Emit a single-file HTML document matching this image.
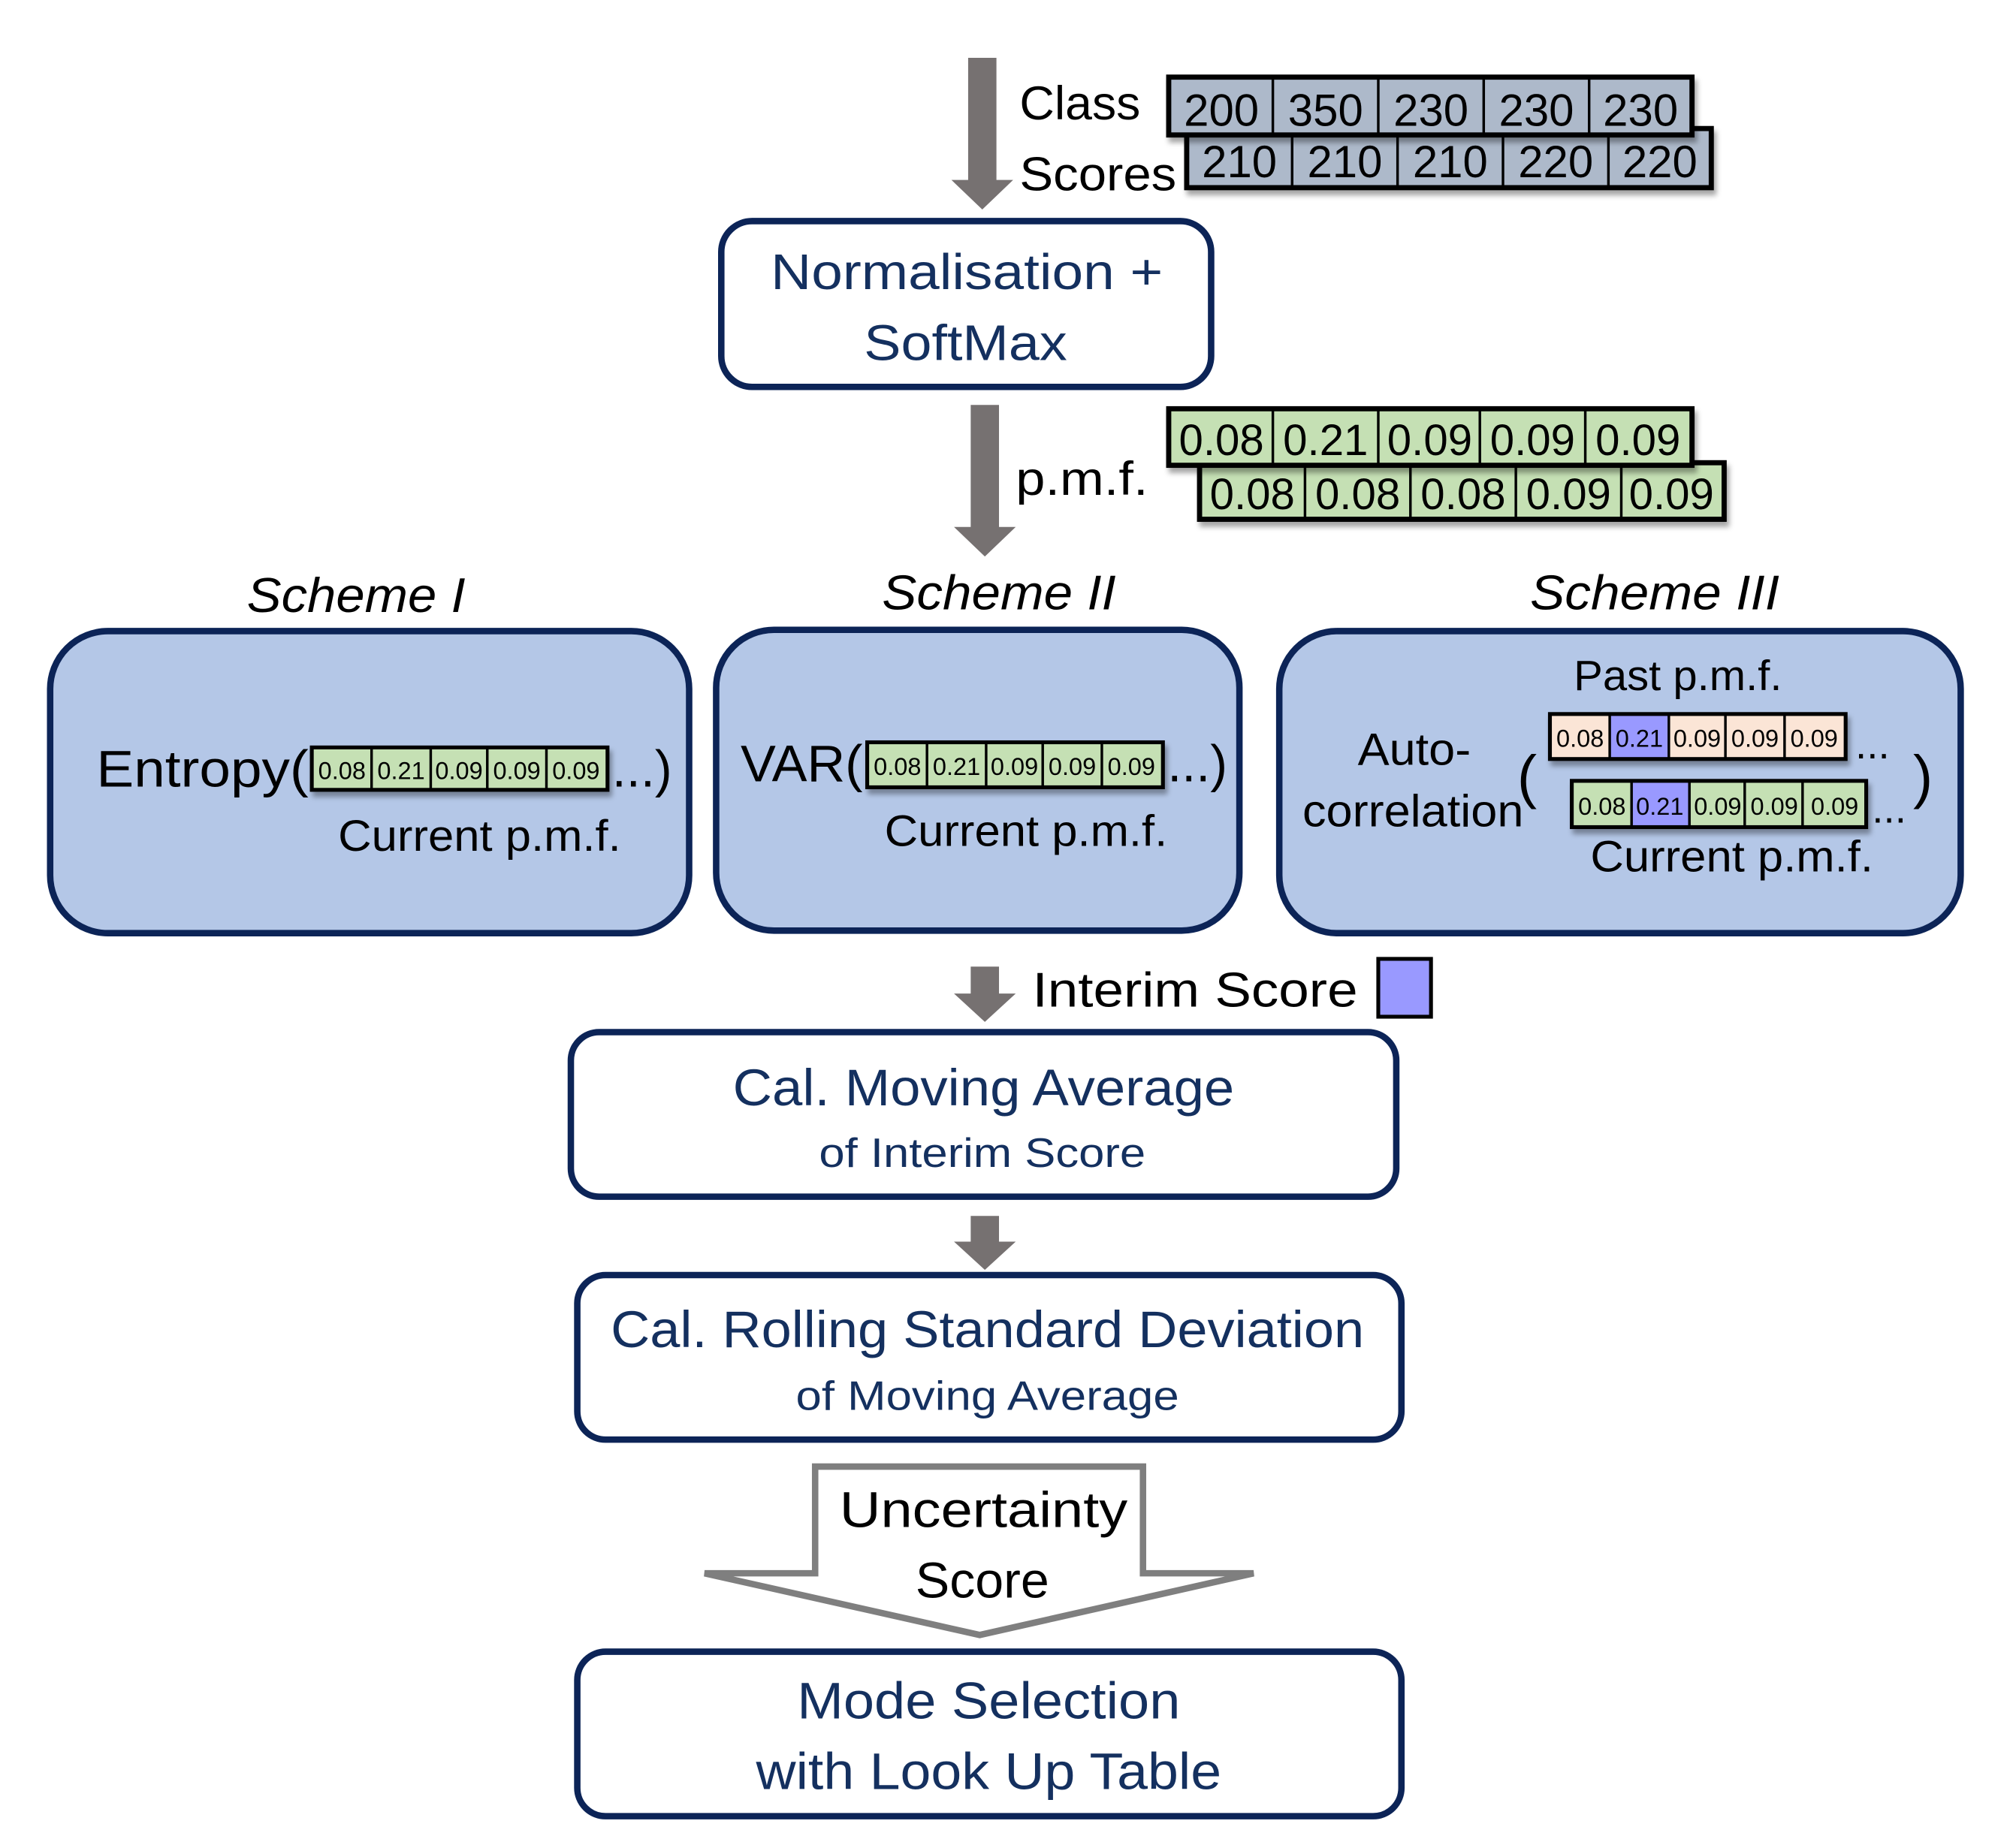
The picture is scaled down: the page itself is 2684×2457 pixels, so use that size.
<!DOCTYPE html>
<html><head><meta charset="utf-8"><style>
html,body{margin:0;padding:0;background:#fff}
svg{display:block}
text{font-family:"Liberation Sans",sans-serif}
</style></head><body>
<svg width="2684" height="2457" viewBox="0 0 1568 1435.4" xmlns="http://www.w3.org/2000/svg">
<defs>
<filter id="sh" x="-5%" y="-10%" width="115%" height="140%"><feDropShadow dx="2" dy="4" stdDeviation="2" flood-color="#000" flood-opacity="0.35"/></filter>
</defs>
<rect width="1568" height="1436" fill="#fff"/>

<!-- top arrow -->
<polygon points="753,45 775,45 775,140 788,140 764,163 740,140 753,140" fill="#767171"/>
<text x="793" y="93" font-size="37" fill="#000" textLength="94" lengthAdjust="spacingAndGlyphs">Class</text>
<text x="793" y="148" font-size="37" fill="#000" textLength="122" lengthAdjust="spacingAndGlyphs">Scores</text>

<!-- gray arrays -->
<g filter="url(#sh)">
<rect x="921" y="98" width="412" height="50" fill="#000"/>
<rect x="925" y="102" width="79" height="42" fill="#adb9ca"/><rect x="1006" y="102" width="80" height="42" fill="#adb9ca"/><rect x="1088" y="102" width="80" height="42" fill="#adb9ca"/><rect x="1170" y="102" width="80" height="42" fill="#adb9ca"/><rect x="1252" y="102" width="77" height="42" fill="#adb9ca"/>
</g>
<g font-size="35" fill="#000" text-anchor="middle">
<text x="964" y="138">210</text><text x="1046" y="138">210</text><text x="1128" y="138">210</text><text x="1210" y="138">220</text><text x="1291" y="138">220</text>
</g>
<g filter="url(#sh)">
<rect x="907" y="58" width="411" height="49" fill="#000"/>
<rect x="911" y="62" width="78" height="41" fill="#adb9ca"/><rect x="991" y="62" width="80" height="41" fill="#adb9ca"/><rect x="1073" y="62" width="80" height="41" fill="#adb9ca"/><rect x="1155" y="62" width="80" height="41" fill="#adb9ca"/><rect x="1237" y="62" width="77" height="41" fill="#adb9ca"/>
</g>
<g font-size="35" fill="#000" text-anchor="middle">
<text x="950" y="98">200</text><text x="1031" y="98">350</text><text x="1113" y="98">230</text><text x="1195" y="98">230</text><text x="1276" y="98">230</text>
</g>

<!-- normalisation box -->
<rect x="561" y="172" width="381" height="129" rx="24" fill="#fff" stroke="#0c2457" stroke-width="5"/>
<g font-size="39" fill="#14305f" text-anchor="middle">
<text x="752" y="225" textLength="305" lengthAdjust="spacingAndGlyphs">Normalisation +</text>
<text x="751" y="280" textLength="158" lengthAdjust="spacingAndGlyphs">SoftMax</text>
</g>

<!-- pmf arrow -->
<polygon points="755,315 777,315 777,410 790,410 766,433 742,410 755,410" fill="#767171"/>
<text x="790" y="385" font-size="37" fill="#000" textLength="103" lengthAdjust="spacingAndGlyphs">p.m.f.</text>

<!-- green arrays -->
<g filter="url(#sh)">
<rect x="931" y="358" width="412" height="48" fill="#000"/>
<rect x="935" y="362" width="79" height="40" fill="#c5e0b4"/><rect x="1016" y="362" width="80" height="40" fill="#c5e0b4"/><rect x="1098" y="362" width="80" height="40" fill="#c5e0b4"/><rect x="1180" y="362" width="80" height="40" fill="#c5e0b4"/><rect x="1262" y="362" width="77" height="40" fill="#c5e0b4"/>
</g>
<g font-size="34" fill="#000" text-anchor="middle">
<text x="974" y="396">0.08</text><text x="1056" y="396">0.08</text><text x="1138" y="396">0.08</text><text x="1220" y="396">0.09</text><text x="1300" y="396">0.09</text>
</g>
<g filter="url(#sh)">
<rect x="907" y="316" width="411" height="48" fill="#000"/>
<rect x="911" y="320" width="78" height="40" fill="#c5e0b4"/><rect x="991" y="320" width="80" height="40" fill="#c5e0b4"/><rect x="1073" y="320" width="77" height="40" fill="#c5e0b4"/><rect x="1152" y="320" width="80" height="40" fill="#c5e0b4"/><rect x="1234" y="320" width="80" height="40" fill="#c5e0b4"/>
</g>
<g font-size="34" fill="#000" text-anchor="middle">
<text x="950" y="354">0.08</text><text x="1031" y="354">0.21</text><text x="1112" y="354">0.09</text><text x="1192" y="354">0.09</text><text x="1274" y="354">0.09</text>
</g>

<!-- scheme labels -->
<g font-size="38" font-style="italic" fill="#000" text-anchor="middle">
<text x="277" y="476" textLength="170" lengthAdjust="spacingAndGlyphs">Scheme I</text>
<text x="777" y="474" textLength="182" lengthAdjust="spacingAndGlyphs">Scheme II</text>
<text x="1287" y="474" textLength="194" lengthAdjust="spacingAndGlyphs">Scheme III</text>
</g>

<!-- scheme boxes -->
<rect x="39" y="491" width="497" height="235" rx="45" fill="#b4c7e7" stroke="#0c2457" stroke-width="5"/>
<rect x="557" y="490" width="407" height="234" rx="45" fill="#b4c7e7" stroke="#0c2457" stroke-width="5"/>
<rect x="995" y="491" width="530" height="235" rx="45" fill="#b4c7e7" stroke="#0c2457" stroke-width="5"/>

<!-- scheme I -->
<text x="75" y="612" font-size="40" fill="#000" textLength="165" lengthAdjust="spacingAndGlyphs">Entropy(</text>
<g filter="url(#sh)">
<rect x="241" y="580" width="233" height="36" fill="#000"/>
<rect x="244" y="583" width="44" height="30" fill="#c5e0b4"/><rect x="290" y="583" width="44" height="30" fill="#c5e0b4"/><rect x="336" y="583" width="42" height="30" fill="#c5e0b4"/><rect x="380" y="583" width="44" height="30" fill="#c5e0b4"/><rect x="426" y="583" width="45" height="30" fill="#c5e0b4"/>
</g>
<g font-size="19" fill="#000" text-anchor="middle">
<text x="266" y="606">0.08</text><text x="312" y="606">0.21</text><text x="357" y="606">0.09</text><text x="402" y="606">0.09</text><text x="448" y="606">0.09</text>
</g>
<text x="476" y="612" font-size="40" fill="#000">...)</text>
<text x="263" y="662" font-size="34" fill="#000" textLength="220" lengthAdjust="spacingAndGlyphs">Current p.m.f.</text>

<!-- scheme II -->
<text x="576" y="608" font-size="40" fill="#000" textLength="95" lengthAdjust="spacingAndGlyphs">VAR(</text>
<g filter="url(#sh)">
<rect x="673" y="576" width="233" height="38" fill="#000"/>
<rect x="676" y="579" width="44" height="32" fill="#c5e0b4"/><rect x="722" y="579" width="44" height="32" fill="#c5e0b4"/><rect x="768" y="579" width="42" height="32" fill="#c5e0b4"/><rect x="812" y="579" width="44" height="32" fill="#c5e0b4"/><rect x="858" y="579" width="45" height="32" fill="#c5e0b4"/>
</g>
<g font-size="19" fill="#000" text-anchor="middle">
<text x="698" y="603">0.08</text><text x="744" y="603">0.21</text><text x="789" y="603">0.09</text><text x="834" y="603">0.09</text><text x="880" y="603">0.09</text>
</g>
<text x="908" y="608" font-size="40" fill="#000">...)</text>
<text x="688" y="658" font-size="34" fill="#000" textLength="220" lengthAdjust="spacingAndGlyphs">Current p.m.f.</text>

<!-- scheme III -->
<text x="1305" y="537" font-size="33" fill="#000" text-anchor="middle" textLength="162" lengthAdjust="spacingAndGlyphs">Past p.m.f.</text>
<text x="1100" y="595" font-size="35" fill="#000" text-anchor="middle" textLength="88" lengthAdjust="spacingAndGlyphs">Auto-</text>
<text x="1099" y="643" font-size="35" fill="#000" text-anchor="middle" textLength="172" lengthAdjust="spacingAndGlyphs">correlation</text>
<text x="1180" y="620" font-size="46" fill="#000">(</text>
<text x="1488" y="620" font-size="46" fill="#000">)</text>
<g filter="url(#sh)">
<rect x="1204" y="554" width="233" height="38" fill="#000"/>
<rect x="1207" y="557" width="44" height="32" fill="#fbe5d6"/><rect x="1253" y="557" width="44" height="32" fill="#9999ff"/><rect x="1299" y="557" width="42" height="32" fill="#fbe5d6"/><rect x="1343" y="557" width="44" height="32" fill="#fbe5d6"/><rect x="1389" y="557" width="45" height="32" fill="#fbe5d6"/>
</g>
<g font-size="19" fill="#000" text-anchor="middle">
<text x="1229" y="581">0.08</text><text x="1275" y="581">0.21</text><text x="1320" y="581">0.09</text><text x="1365" y="581">0.09</text><text x="1411" y="581">0.09</text>
</g>
<text x="1443" y="590" font-size="32" fill="#000">...</text>
<g filter="url(#sh)">
<rect x="1221" y="606" width="232" height="39" fill="#000"/>
<rect x="1224" y="609" width="44" height="33" fill="#c5e0b4"/><rect x="1270" y="609" width="43" height="33" fill="#9999ff"/><rect x="1315" y="609" width="41" height="33" fill="#c5e0b4"/><rect x="1358" y="609" width="43" height="33" fill="#c5e0b4"/><rect x="1403" y="609" width="47" height="33" fill="#c5e0b4"/>
</g>
<g font-size="19" fill="#000" text-anchor="middle">
<text x="1246" y="634">0.08</text><text x="1291" y="634">0.21</text><text x="1336" y="634">0.09</text><text x="1380" y="634">0.09</text><text x="1427" y="634">0.09</text>
</g>
<text x="1456" y="640" font-size="32" fill="#000">...</text>
<text x="1237" y="678" font-size="34" fill="#000" textLength="220" lengthAdjust="spacingAndGlyphs">Current p.m.f.</text>

<!-- interim -->
<polygon points="755,752 777,752 777,773 790,773 766,795 742,773 755,773" fill="#767171"/>
<text x="803" y="783" font-size="38" fill="#000" textLength="253" lengthAdjust="spacingAndGlyphs">Interim Score</text>
<rect x="1072" y="746" width="41" height="45" fill="#9999ff" stroke="#000" stroke-width="3"/>

<!-- box 1 -->
<rect x="444" y="803" width="642" height="128" rx="22" fill="#fff" stroke="#0c2457" stroke-width="5"/>
<text x="765" y="860" font-size="40" fill="#14305f" text-anchor="middle" textLength="390" lengthAdjust="spacingAndGlyphs">Cal. Moving Average</text>
<text x="764" y="908" font-size="32" fill="#14305f" text-anchor="middle" textLength="254" lengthAdjust="spacingAndGlyphs">of Interim Score</text>

<polygon points="755,946 777,946 777,966 790,966 766,988 742,966 755,966" fill="#767171"/>

<!-- box 2 -->
<rect x="449" y="992" width="641" height="128" rx="22" fill="#fff" stroke="#0c2457" stroke-width="5"/>
<text x="768" y="1048" font-size="40" fill="#14305f" text-anchor="middle" textLength="586" lengthAdjust="spacingAndGlyphs">Cal. Rolling Standard Deviation</text>
<text x="768" y="1097" font-size="32" fill="#14305f" text-anchor="middle" textLength="298" lengthAdjust="spacingAndGlyphs">of Moving Average</text>

<!-- hollow arrow -->
<polygon points="634,1141 889,1141 889,1224 975,1224 762,1272 548,1224 634,1224" fill="#fff" stroke="#7f7f7f" stroke-width="5" stroke-linejoin="miter"/>
<text x="765" y="1188" font-size="39" fill="#000" text-anchor="middle" textLength="224" lengthAdjust="spacingAndGlyphs">Uncertainty</text>
<text x="764" y="1243" font-size="39" fill="#000" text-anchor="middle" textLength="104" lengthAdjust="spacingAndGlyphs">Score</text>

<!-- box 3 -->
<rect x="449" y="1285" width="641" height="128" rx="22" fill="#fff" stroke="#0c2457" stroke-width="5"/>
<text x="769" y="1337" font-size="40" fill="#14305f" text-anchor="middle" textLength="298" lengthAdjust="spacingAndGlyphs">Mode Selection</text>
<text x="769" y="1392" font-size="40" fill="#14305f" text-anchor="middle" textLength="362" lengthAdjust="spacingAndGlyphs">with Look Up Table</text>
</svg>
</body></html>
